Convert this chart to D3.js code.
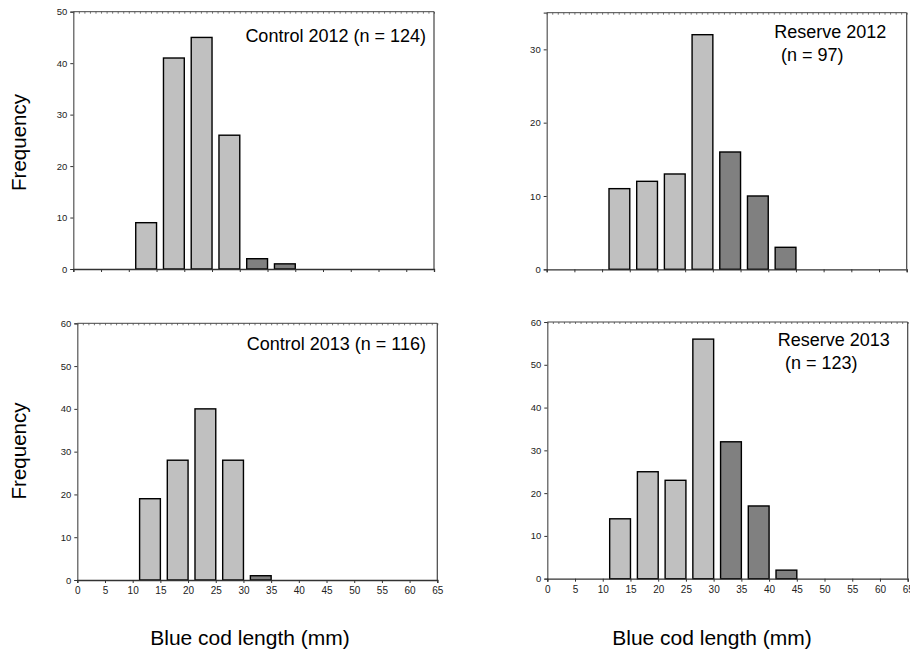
<!DOCTYPE html>
<html>
<head>
<meta charset="utf-8">
<script src="https://cdn.jsdelivr.net/npm/d3@7"></script>
<style>
  html, body { margin: 0; padding: 0; background: #fff; }
  svg { display: block; font-family: Arial, "Liberation Sans", sans-serif; }
</style>
</head>
<body>
<svg id="chart" width="910" height="653"></svg>
<script>
// Length-class lower edges (mm), 5 mm bins
const binStarts = [10, 15, 20, 25, 30, 35, 40];

// Frequency per length class
const control2012 = [9, 41, 45, 26, 2, 1, 0];
const reserve2012 = [11, 12, 13, 32, 16, 10, 3];
const control2013 = [19, 28, 40, 28, 1, 0, 0];
const reserve2013 = [14, 25, 23, 56, 32, 17, 2];

// Axis ticks
const xTicks = [0, 5, 10, 15, 20, 25, 30, 35, 40, 45, 50, 55, 60, 65];
const yTicksControl2012 = [0, 10, 20, 30, 40, 50];
const yTicksReserve2012 = [0, 10, 20, 30];
const yTicks2013 = [0, 10, 20, 30, 40, 50, 60];

// Panel labels
const titleControl2012 = ["Control 2012 (n = 124)"];
const titleReserve2012 = ["Reserve 2012", " (n = 97)"];
const titleControl2013 = ["Control 2013 (n = 116)"];
const titleReserve2013 = ["Reserve 2013", " (n = 123)"];

const yLabel = "Frequency";
const xLabel = "Blue cod length (mm)";

// Classes from this length upward are shaded darker
const largeFrom = 30;

const svg = d3.select("#chart");

const panels = [
  { values: control2012, yMax: 50, yTicks: yTicksControl2012, title: titleControl2012,
    left: 73.3, right: 434, top: 11.7, bottom: 269, xLabels: false,
    titleAnchor: "end", titleX: 426, titleY: 41.5 },
  { values: reserve2012, yMax: 35, yTicks: yTicksReserve2012, title: titleReserve2012,
    left: 546.7, right: 906.7, top: 12.7, bottom: 269.3, xLabels: false,
    titleAnchor: "start", titleX: 774.3, titleY: 38, lineX: [774.3, 776] },
  { values: control2013, yMax: 60, yTicks: yTicks2013, title: titleControl2013,
    left: 77.3, right: 437.3, top: 323.3, bottom: 580, xLabels: true,
    titleAnchor: "end", titleX: 426, titleY: 350 },
  { values: reserve2013, yMax: 60, yTicks: yTicks2013, title: titleReserve2013,
    left: 547.3, right: 907.7, top: 322, bottom: 578.7, xLabels: true,
    titleAnchor: "start", titleX: 777.7, titleY: 345.5, lineX: [777.7, 780] }
];

const axisColor = "#333";

panels.forEach(p => {
  const x = d3.scaleLinear().domain([0, 65]).range([p.left, p.right]);
  const y = d3.scaleLinear().domain([0, p.yMax]).range([p.bottom, p.top]);
  const g = svg.append("g");

  // frame: top edge with fine ticks, right edge
  const topAxis = d3.axisBottom(x).tickValues(d3.range(0, 66, 1)).tickSize(2).tickFormat("");
  const tg = g.append("g").attr("transform", `translate(0,${p.top})`).call(topAxis);
  tg.select(".domain").remove();
  tg.selectAll("line").attr("stroke", "#555").attr("stroke-width", 0.8);
  g.append("line")
    .attr("x1", p.left).attr("x2", p.right).attr("y1", p.top).attr("y2", p.top)
    .attr("stroke", "#444").attr("stroke-width", 1);
  g.append("line")
    .attr("x1", p.right).attr("x2", p.right).attr("y1", p.top).attr("y2", p.bottom)
    .attr("stroke", "#444").attr("stroke-width", 1.2);

  // bars: each class drawn over the upper 3/4 of its 5 mm bin
  const binWidth = 5, barOffset = 1.25;
  g.selectAll("rect.bar")
    .data(binStarts.map((lo, i) => ({ lo, v: p.values[i] })).filter(d => d.v > 0))
    .join("rect")
    .attr("class", "bar")
    .attr("x", d => x(d.lo + barOffset))
    .attr("width", d => x(d.lo + binWidth) - x(d.lo + barOffset))
    .attr("y", d => y(d.v))
    .attr("height", d => y(0) - y(d.v))
    .attr("fill", d => d.lo >= largeFrom ? "#808080" : "#c0c0c0")
    .attr("stroke", "#000")
    .attr("stroke-width", 1.4);

  // y axis
  const yAxis = d3.axisLeft(y).tickValues(p.yTicks).tickSize(3).tickPadding(3);
  const yg = g.append("g").attr("transform", `translate(${p.left},0)`).call(yAxis);
  yg.select(".domain").attr("stroke", "#555").attr("stroke-width", 1.2);
  yg.selectAll("line").attr("stroke", axisColor);
  yg.selectAll("text").attr("font-size", 9.5).attr("fill", "#222")
    .attr("font-family", "Arial, 'Liberation Sans', sans-serif");

  // x axis
  const xAxis = d3.axisBottom(x).tickValues(xTicks).tickSize(3).tickPadding(4)
    .tickFormat(p.xLabels ? d3.format("d") : "");
  const xg = g.append("g").attr("transform", `translate(0,${p.bottom})`).call(xAxis);
  xg.select(".domain").attr("stroke", axisColor).attr("stroke-width", 1.3);
  xg.selectAll("line").attr("stroke", axisColor);
  xg.selectAll("text").attr("font-size", 10).attr("fill", "#222")
    .attr("font-family", "Arial, 'Liberation Sans', sans-serif");

  // panel title
  p.title.forEach((line, i) => {
    g.append("text")
      .attr("x", p.lineX ? p.lineX[i] : p.titleX)
      .attr("y", p.titleY + i * 23)
      .attr("text-anchor", p.titleAnchor)
      .attr("font-size", 18)
      .attr("fill", "#000")
      .attr("xml:space", "preserve")
      .text(line);
  });
});

// y-axis titles on the left column
[142.5, 451].forEach(cy => {
  svg.append("text")
    .attr("transform", `translate(26,${cy}) rotate(-90)`)
    .attr("text-anchor", "middle")
    .attr("font-size", 20.5)
    .text(yLabel);
});

// x-axis titles under each column
[250, 712].forEach(cx => {
  svg.append("text")
    .attr("x", cx).attr("y", 645)
    .attr("text-anchor", "middle")
    .attr("font-size", 21)
    .text(xLabel);
});
</script>
</body>
</html>
